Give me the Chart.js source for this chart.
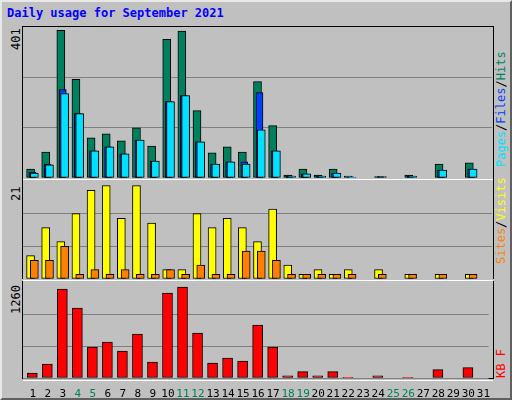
<!DOCTYPE html>
<html><head><meta charset="utf-8">
<script src="https://cdn.jsdelivr.net/npm/chart.js@4"></script>
<style>
body{margin:0;background:#c0c0c0;}
#wrap{position:absolute;left:0;top:0;width:508px;height:396px;border:2px solid;border-color:#e8e8e8 #606060 #606060 #e8e8e8;background:#c0c0c0;font-family:"DejaVu Sans Mono",monospace;}
.c{position:absolute;}
.rot{position:absolute;transform-origin:0 0;transform:rotate(-90deg);white-space:nowrap;font-size:12px;font-family:"DejaVu Sans Mono",monospace;}
#title{position:absolute;left:5px;top:4px;color:#0000ff;font-weight:bold;font-size:12px;}
.sep{position:absolute;left:21px;width:470px;height:1px;background:#fff;}
</style></head><body>
<div id="wrap">
<div id="title">Daily usage for September 2021</div>
<div class="rot" style="left:7px;top:48px;">401</div>
<div class="rot" style="left:7px;top:199px;">21</div>
<div class="rot" style="left:7px;top:312px;">1260</div>
<div class="rot" style="left:492px;top:165px;"><span style="color:#00e0ff">Pages</span>/<span style="color:#0040ff">Files</span>/<span style="color:#00805c">Hits</span></div>
<div class="rot" style="left:492px;top:262px;"><span style="color:#ff8000">Sites</span>/<span style="color:#ffff00">Visits</span></div>
<div class="rot" style="left:492px;top:376px;"><span style="color:#ff0000">KB F</span></div>
<div class="c" style="left:20px;top:24px;width:470px;height:152px;border:1px solid #000;"></div>
<div class="c" style="left:20px;top:178px;width:470px;height:99px;border-left:1px solid #000;border-right:1px solid #000;"></div>
<div class="c" style="left:20px;top:279px;width:470px;height:97px;border-left:1px solid #000;border-right:1px solid #000;border-bottom:1px solid #000;"></div>
<div class="sep" style="top:177px"></div><div class="sep" style="top:278px"></div><div class="sep" style="top:378px"></div>
<canvas id="c1" class="c" style="left:21px;top:25px;width:469px;height:151px;"></canvas>
<canvas id="c2" class="c" style="left:21px;top:179px;width:469px;height:98px;"></canvas>
<canvas id="c3" class="c" style="left:21px;top:280px;width:469px;height:115px;"></canvas>
</div>
<script>
const days=[1,2,3,4,5,6,7,8,9,10,11,12,13,14,15,16,17,18,19,20,21,22,23,24,25,26,27,28,29,30,31];
const hits=[24,69,392,262,107,117,99,133,85,368,390,179,67,83,69,256,139,8,24,8,24,5,0,4,0,8,0,37,0,40,0];
const files=[16,37,235,171,72,83,64,101,45,203,219,96,37,43,43,227,72,6,11,5,13,3,0,4,0,5,0,21,0,24,0];
const pages=[13,35,224,171,72,83,64,101,45,203,219,96,37,43,37,128,72,5,11,5,13,2,0,4,0,5,0,21,0,24,0];
const visits=[5,11,8,14,19,20,13,20,12,2,2,14,11,13,11,8,15,3,1,2,1,2,0,2,0,1,0,1,0,1,0];
const sites=[4,4,7,1,2,1,2,1,1,2,1,3,1,1,6,6,4,1,1,1,1,1,0,1,0,1,0,1,0,1,0];
const kbytes=[66,184,1166,917,406,472,354,577,210,1114,1193,590,197,262,223,695,406,30,84,30,84,8,0,30,0,8,0,110,0,136,0];
const maxes=[401,21,1260];
const weekend=[4,5,11,12,18,19,25,26];

function pts(arr,off){return arr.map((v,i)=>({x:days[i]+off,y:v>0?v:null}));}
function ds(arr,off,color,w,order){return {data:pts(arr,off),backgroundColor:color,borderColor:'#000',borderWidth:1,borderSkipped:false,barThickness:w,grouped:false,order:order};}
function make(id,datasets,max,showX){
  new Chart(document.getElementById(id),{type:'bar',data:{datasets},
    options:{responsive:false,animation:false,devicePixelRatio:1,layout:{padding:0},
      plugins:{legend:{display:false},tooltip:{enabled:false}},
      scales:{
        x:{type:'linear',min:0.5,max:31.5,display:showX,offset:false,
           grid:{display:false},border:{display:false},
           afterBuildTicks:s=>{s.ticks=days.map(d=>({value:d+0.15}));},
           afterFit:s=>{if(showX)s.height=19;},
           ticks:{autoSkip:false,maxRotation:0,padding:2,font:{family:'DejaVu Sans Mono',size:11},
             callback:(v)=>String(Math.round(v-0.15)),
             color:c=>weekend.includes(Math.round(c.tick.value-0.15))?'#00805c':'#000'}},
        y:{min:0,max:max,afterBuildTicks:s=>{s.ticks=[0,max/3,2*max/3].map(v=>({value:v}));},
           afterFit:s=>{s.width=0;},
           ticks:{display:false},border:{display:false},
           grid:{color:'#808080',lineWidth:1,drawTicks:false}}
      }}});
}
function size(id){const c=document.getElementById(id);c.width=parseInt(c.style.width);c.height=parseInt(c.style.height);}
['c1','c2','c3'].forEach(size);
make('c1',[ds(hits,0,'#00805c',8,3),ds(files,0.13,'#0040ff',7,2),ds(pages,0.25,'#00e0ff',8,1)],maxes[0],false);
make('c2',[ds(visits,0,'#ffff00',8,2),ds(sites,0.25,'#ff8000',8,1)],maxes[1],false);
make('c3',[ds(kbytes,0.12,'#ff0000',10,1)],maxes[2],true);
</script></body></html>
